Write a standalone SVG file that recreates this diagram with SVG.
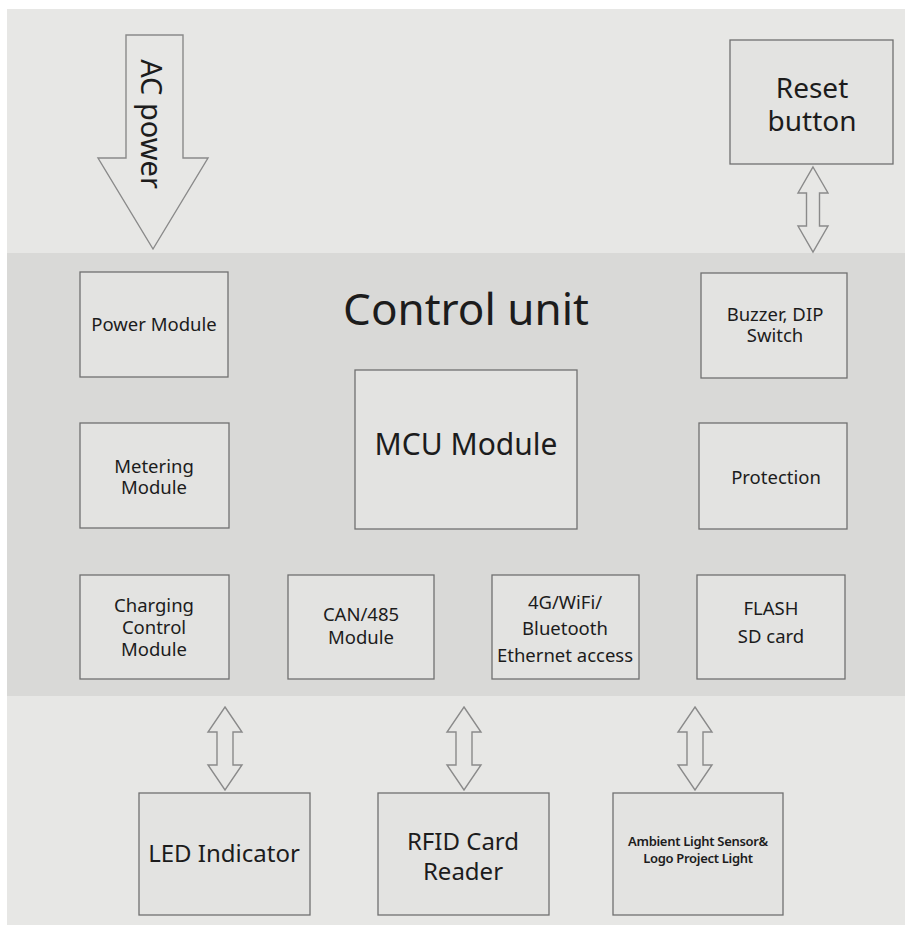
<svg xmlns="http://www.w3.org/2000/svg" width="905" height="925" viewBox="0 0 905 925">
<style>
.box{fill:#e3e3e1;stroke:#707070;stroke-width:1.3}
.arr{fill:none;stroke:#8a8a8a;stroke-width:1.4;stroke-linejoin:miter}
text{font-family:"Noto Sans","Open Sans","DejaVu Sans",sans-serif;fill:#1c1c1c;text-anchor:middle}
.m{font-size:18.5px}
.l{font-size:24px}
.s{font-size:13px;font-weight:600;letter-spacing:-0.3px}
</style>
<rect x="0" y="0" width="905" height="925" fill="#ffffff"/>
<rect x="7" y="9" width="898" height="916" fill="#e7e7e5"/>
<rect id="control-unit-band" x="7" y="253" width="898" height="443" fill="#d9d9d7"/>
<text x="466" y="325" style="font-size:44px">Control unit</text>

<g id="connectors">
<path class="arr" d="M126,35 L183,35 L183,158 L208,158 L153,249 L98,158 L126,158 Z"/>
<path class="arr" d="M813,167 L828,193 L819.5,193 L819.5,226 L828,226 L813,252 L798,226 L806.5,226 L806.5,193 L798,193 Z"/>
<path class="arr" d="M225,707 L242,732 L233,732 L233,765 L242,765 L225,790 L208,765 L217,765 L217,732 L208,732 Z"/>
<path class="arr" d="M464,707 L481,732 L472,732 L472,765 L481,765 L464,790 L447,765 L456,765 L456,732 L447,732 Z"/>
<path class="arr" d="M695,707 L712,732 L703,732 L703,765 L712,765 L695,790 L678,765 L687,765 L687,732 L678,732 Z"/>
</g>

<g id="ac-power">
<text transform="translate(141,124) rotate(90)" style="font-size:29px">AC power</text>
</g>

<g id="reset-button">
<rect class="box" x="730" y="40" width="163" height="124"/>
<text x="812" y="98" style="font-size:28px">Reset</text>
<text x="812" y="131" style="font-size:28px">button</text>
</g>

<g id="power-module">
<rect class="box" x="80" y="272" width="148" height="105"/>
<text class="m" x="154" y="331">Power Module</text>
</g>

<g id="buzzer">
<rect class="box" x="701" y="273" width="146" height="105"/>
<text class="m" x="775" y="321">Buzzer, DIP</text>
<text class="m" x="775" y="342">Switch</text>
</g>

<g id="mcu-module">
<rect class="box" x="355" y="370" width="222" height="159"/>
<text x="466" y="455" style="font-size:30px">MCU Module</text>
</g>

<g id="metering-module">
<rect class="box" x="80" y="423" width="149" height="105"/>
<text class="m" x="154" y="473">Metering</text>
<text class="m" x="154" y="494">Module</text>
</g>

<g id="protection">
<rect class="box" x="699" y="423" width="148" height="106"/>
<text class="m" x="776" y="484">Protection</text>
</g>

<g id="charging-control-module">
<rect class="box" x="80" y="575" width="149" height="104"/>
<text class="m" x="154" y="612">Charging</text>
<text class="m" x="154" y="634">Control</text>
<text class="m" x="154" y="656">Module</text>
</g>

<g id="can-485-module">
<rect class="box" x="288" y="575" width="146" height="104"/>
<text class="m" x="361" y="621">CAN/485</text>
<text class="m" x="361" y="644">Module</text>
</g>

<g id="wireless">
<rect class="box" x="492" y="575" width="147" height="104"/>
<text class="m" x="565" y="609">4G/WiFi/</text>
<text class="m" x="565" y="635">Bluetooth</text>
<text class="m" x="565" y="662">Ethernet access</text>
</g>

<g id="flash-sd">
<rect class="box" x="697" y="575" width="148" height="104"/>
<text class="m" x="771" y="615">FLASH</text>
<text class="m" x="771" y="643">SD card</text>
</g>

<g id="led-indicator">
<rect class="box" x="139" y="793" width="171" height="122"/>
<text class="l" x="224" y="862">LED Indicator</text>
</g>

<g id="rfid-reader">
<rect class="box" x="378" y="793" width="171" height="122"/>
<text class="l" x="463" y="850">RFID Card</text>
<text class="l" x="463" y="880">Reader</text>
</g>

<g id="ambient-light">
<rect class="box" x="613" y="793" width="170" height="122"/>
<text class="s" x="698" y="846">Ambient Light Sensor&amp;</text>
<text class="s" x="698" y="863">Logo Project Light</text>
</g>
</svg>
